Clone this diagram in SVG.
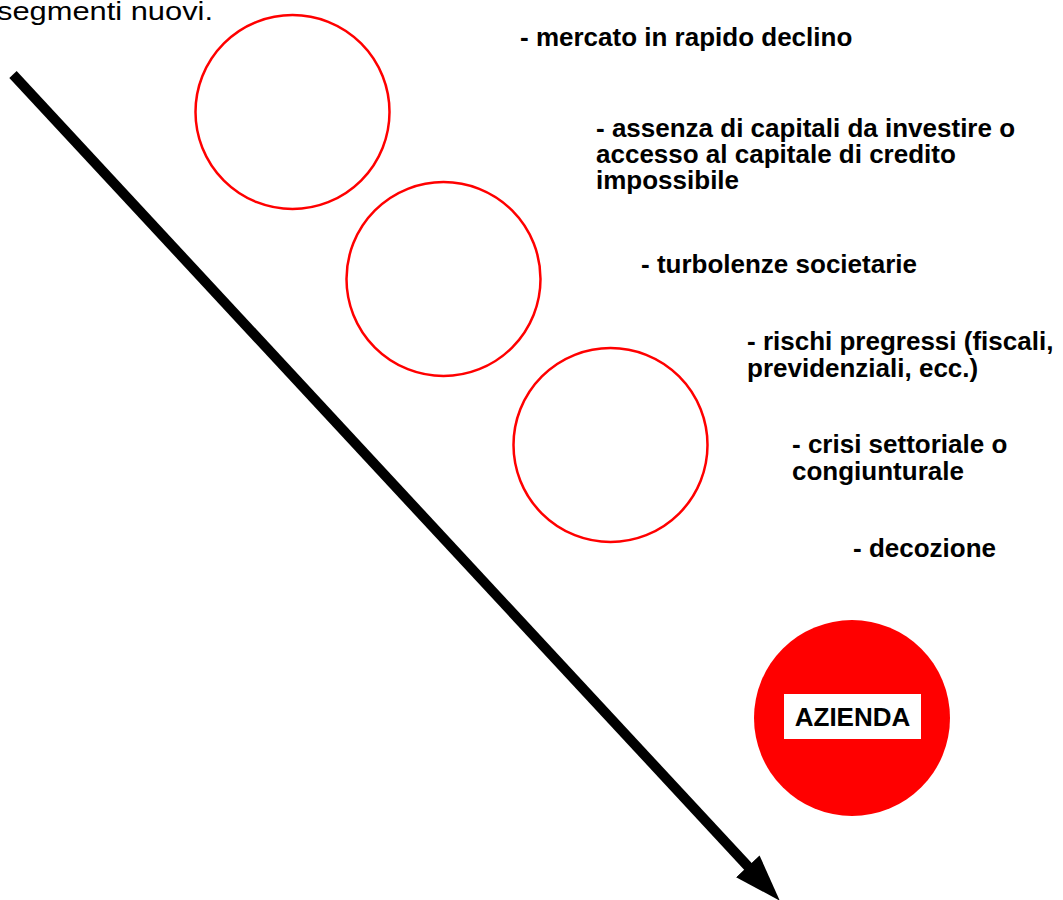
<svg xmlns="http://www.w3.org/2000/svg" width="1063" height="900" viewBox="0 0 1063 900">
<style>
.t{font-family:"Liberation Sans",Arial,sans-serif;font-size:26px;font-weight:bold;fill:#000}
.n{font-family:"Liberation Sans",Arial,sans-serif;font-size:26px;fill:#000}
.ring{fill:none;stroke:#ff0000;stroke-width:2.5}
</style>
<defs>
<marker id="ah" markerUnits="userSpaceOnUse" markerWidth="50" markerHeight="34" refX="1" refY="16" orient="auto">
<path d="M0,0 L47,16 L0,32 Z" fill="#000"/>
</marker>
</defs>
<rect width="1063" height="900" fill="#fff"/>
<text class="n" x="-3" y="20" textLength="216" lengthAdjust="spacingAndGlyphs">segmenti nuovi.</text>
<g id="connectors">
<line x1="13" y1="74.5" x2="748.5" y2="867" stroke="#000" stroke-width="10" marker-end="url(#ah)"/>
</g>
<g id="circle1"><circle class="ring" cx="292.5" cy="112" r="97"/></g>
<g id="circle2"><circle class="ring" cx="443.5" cy="279" r="97"/></g>
<g id="circle3"><circle class="ring" cx="610.5" cy="445" r="97"/></g>
<g id="azienda">
<circle cx="852" cy="718" r="98" fill="#ff0000"/>
<rect x="784" y="694" width="137" height="45" fill="#fff"/>
<text class="t" x="852.5" y="726" text-anchor="middle">AZIENDA</text>
</g>
<g id="labels">
<text class="t" x="520" y="46">- mercato in rapido declino</text>
<text class="t" x="596" y="137">- assenza di capitali da investire o</text>
<text class="t" x="596" y="163">accesso al capitale di credito</text>
<text class="t" x="596" y="189">impossibile</text>
<text class="t" x="641" y="273">- turbolenze societarie</text>
<text class="t" x="747" y="350">- rischi pregressi (fiscali,</text>
<text class="t" x="747" y="377">previdenziali, ecc.)</text>
<text class="t" x="792" y="453">- crisi settoriale o</text>
<text class="t" x="792" y="480">congiunturale</text>
<text class="t" x="853" y="557">- decozione</text>
</g>
</svg>
